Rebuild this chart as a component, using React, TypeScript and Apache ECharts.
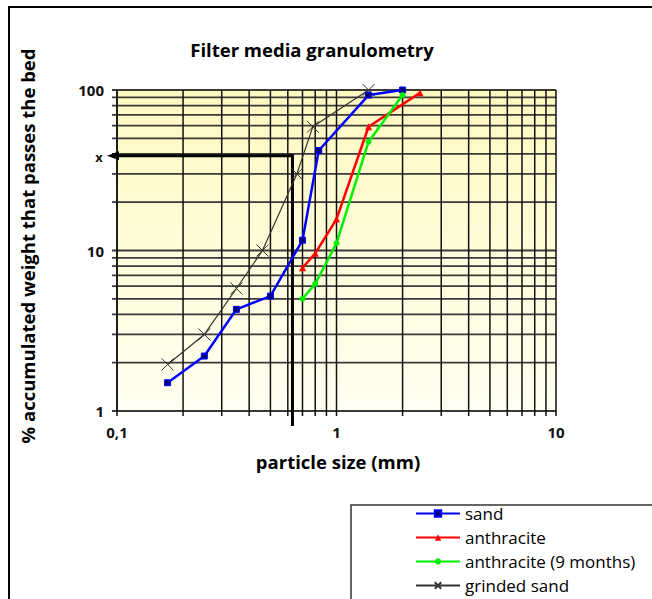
import React, { useEffect, useRef } from "react";
import * as echarts from "echarts";

// ---- data ----
const sandSize = [0.17, 0.25, 0.35, 0.5, 0.7, 0.83, 1.4, 2.0];
const sandPass = [1.5, 2.2, 4.3, 5.2, 11.6, 42, 93, 100];
const anthSize = [0.7, 0.8, 1.0, 1.4, 2.4];
const anthPass = [7.8, 9.6, 15.7, 59, 96];
const anth9Size = [0.7, 0.8, 1.0, 1.4, 2.0];
const anth9Pass = [5.0, 6.2, 11.1, 47.6, 93];
const grindSize = [0.17, 0.25, 0.35, 0.46, 0.66, 0.78, 1.4];
const grindPass = [1.95, 3.0, 5.8, 10, 30, 59, 100];

const xGridValues = [0.1, 0.2, 0.3, 0.4, 0.5, 0.6, 0.7, 0.8, 0.9, 1, 2, 3, 4, 5, 6, 7, 8, 9, 10];
const yGridValues = [1, 2, 3, 4, 5, 6, 7, 8, 9, 10, 20, 30, 40, 50, 60, 70, 80, 90, 100];

const indicatorSize = 0.63;
const indicatorPass = 39;
const indicatorLabel = "x";

const title = "Filter media granulometry";
const xTitle = "particle size (mm)";
const yTitle = "% accumulated weight that passes the bed";
const legendNames = ["sand", "anthracite", "anthracite (9 months)", "grinded sand"];

const FONT = "'Open Sans', 'Noto Sans', sans-serif";

const zip = (a: number[], b: number[]) => a.map((v, i) => [v, b[i]]);

export default function App() {
  const ref = useRef<HTMLDivElement>(null);
  useEffect(() => {
    document.body.style.margin = "0";
    const chart = echarts.init(ref.current!, null, { renderer: "svg" });
    const option: any = {
      animation: false,
      backgroundColor: "#fff",
      grid: {
        left: 117,
        top: 90,
        width: 439,
        height: 321,
        show: true,
        borderWidth: 0,
        backgroundColor: new echarts.graphic.LinearGradient(0, 0, 0, 1, [
          { offset: 0, color: "#fff9c0" },
          { offset: 1, color: "#fffff2" },
        ]),
      },
      xAxis: {
        type: "log",
        logBase: 10,
        min: 0.1,
        max: 10,
        axisLine: { show: true, lineStyle: { color: "#111", width: 1.5 } },
        axisTick: { show: false },
        splitLine: { show: false },
        axisLabel: {
          margin: 13,
          fontFamily: FONT,
          fontWeight: "bold",
          fontSize: 15,
          color: "#111",
          formatter: (v: number) => String(v).replace(".", ","),
        },
      },
      yAxis: {
        type: "log",
        logBase: 10,
        min: 1,
        max: 100,
        axisLine: { show: true, lineStyle: { color: "#111", width: 1.5 } },
        axisTick: { show: false },
        splitLine: { show: false },
        axisLabel: {
          margin: 13,
          fontFamily: FONT,
          fontWeight: "bold",
          fontSize: 15,
          color: "#111",
        },
      },
      legend: {
        orient: "vertical",
        left: 415,
        top: 505,
        padding: 0,
        itemWidth: 44,
        itemHeight: 8,
        itemGap: 7,
        textStyle: { fontFamily: FONT, fontSize: 17, color: "#000" },
        data: legendNames,
      },
      graphic: [
        {
          type: "rect",
          z: -10,
          silent: true,
          shape: { x: 9, y: 7, width: 800, height: 800 },
          style: { fill: "none", stroke: "#000", lineWidth: 2 },
        },
        {
          type: "rect",
          z: 0,
          silent: true,
          shape: { x: 351, y: 505, width: 400, height: 200 },
          style: { fill: "#fff", stroke: "#333", lineWidth: 1.5 },
        },
        {
          type: "text",
          x: 312,
          y: 49,
          style: {
            text: title,
            fontFamily: FONT,
            fontWeight: "bold",
            fontSize: 18.5,
            fill: "#000",
            align: "center",
            verticalAlign: "middle",
          },
        },
        {
          type: "text",
          x: 338,
          y: 461,
          style: {
            text: xTitle,
            fontFamily: FONT,
            fontWeight: "bold",
            fontSize: 18.5,
            fill: "#000",
            align: "center",
            verticalAlign: "middle",
          },
        },
        {
          type: "text",
          x: 27,
          y: 246,
          rotation: Math.PI / 2,
          style: {
            text: yTitle,
            fontFamily: FONT,
            fontWeight: "bold",
            fontSize: 18.5,
            fill: "#000",
            align: "center",
            verticalAlign: "middle",
          },
        },
      ],
      series: [
        {
          type: "custom",
          name: "hgrid",
          silent: true,
          clip: false,
          z: 1,
          encode: { x: 0, y: 1 },
          data: yGridValues.map((v) => [0.1, v]),
          renderItem: (params: any, api: any) => {
            const v = api.value(1);
            const a = api.coord([0.1, v]);
            const b = api.coord([10, v]);
            return {
              type: "line",
              shape: { x1: a[0] - 5, y1: a[1], x2: b[0], y2: b[1] },
              style: { stroke: "#3a3a3a", lineWidth: 1.8 },
            };
          },
        },
        {
          type: "custom",
          name: "vgrid",
          silent: true,
          clip: false,
          z: 1,
          encode: { x: 0, y: 1 },
          data: xGridValues.map((v) => [v, 1]),
          renderItem: (params: any, api: any) => {
            const v = api.value(0);
            const a = api.coord([v, 100]);
            const b = api.coord([v, 1]);
            return {
              type: "line",
              shape: { x1: a[0], y1: a[1], x2: b[0], y2: b[1] + 5 },
              style: { stroke: "#111", lineWidth: 1.5 },
            };
          },
        },
        {
          type: "custom",
          name: "indicator",
          silent: true,
          clip: false,
          z: 2,
          encode: { x: 0, y: 1 },
          data: [[indicatorSize, indicatorPass]],
          renderItem: (params: any, api: any) => {
            const p = api.coord([api.value(0), api.value(1)]);
            const base = api.coord([api.value(0), 1]);
            const left = api.coord([0.1, api.value(1)]);
            const tipX = left[0] - 10;
            return {
              type: "group",
              children: [
                {
                  type: "polyline",
                  shape: {
                    points: [
                      [p[0], base[1] + 15],
                      [p[0], p[1]],
                      [tipX + 8, p[1]],
                    ],
                  },
                  style: { stroke: "#000", lineWidth: 3, fill: "none" },
                },
                {
                  type: "polygon",
                  shape: {
                    points: [
                      [tipX, p[1]],
                      [tipX + 12, p[1] - 4.5],
                      [tipX + 12, p[1] + 4.5],
                    ],
                  },
                  style: { fill: "#000" },
                },
                {
                  type: "text",
                  x: tipX - 8,
                  y: p[1] + 1,
                  style: {
                    text: indicatorLabel,
                    fontFamily: FONT,
                    fontWeight: "bold",
                    fontSize: 13,
                    fill: "#111",
                    align: "center",
                    verticalAlign: "middle",
                  },
                },
              ],
            };
          },
        },
        {
          type: "line",
          name: "grinded sand",
          z: 3,
          data: zip(grindSize, grindPass),
          symbol: "path://M0,0L10,10M10,0L0,10",
          symbolSize: 12,
          lineStyle: { color: "#333", width: 1.2 },
          itemStyle: { color: "#333", borderColor: "#333", borderWidth: 1 },
        },
        {
          type: "line",
          name: "sand",
          z: 4,
          data: zip(sandSize, sandPass),
          symbol: "rect",
          symbolSize: 6,
          lineStyle: { color: "#0000ff", width: 2.5 },
          itemStyle: { color: "#000080", borderColor: "#0000ff", borderWidth: 1 },
        },
        {
          type: "line",
          name: "anthracite",
          z: 4,
          data: zip(anthSize, anthPass),
          symbol: "triangle",
          symbolSize: 7,
          lineStyle: { color: "#ff0000", width: 2.5 },
          itemStyle: { color: "#ff0000" },
        },
        {
          type: "line",
          name: "anthracite (9 months)",
          z: 4,
          data: zip(anth9Size, anth9Pass),
          symbol: "circle",
          symbolSize: 6,
          lineStyle: { color: "#00ee00", width: 2.5 },
          itemStyle: { color: "#00ee00" },
        },
      ],
    };
    chart.setOption(option);
    return () => chart.dispose();
  }, []);
  return <div ref={ref} style={{ width: 652, height: 599 }} />;
}
